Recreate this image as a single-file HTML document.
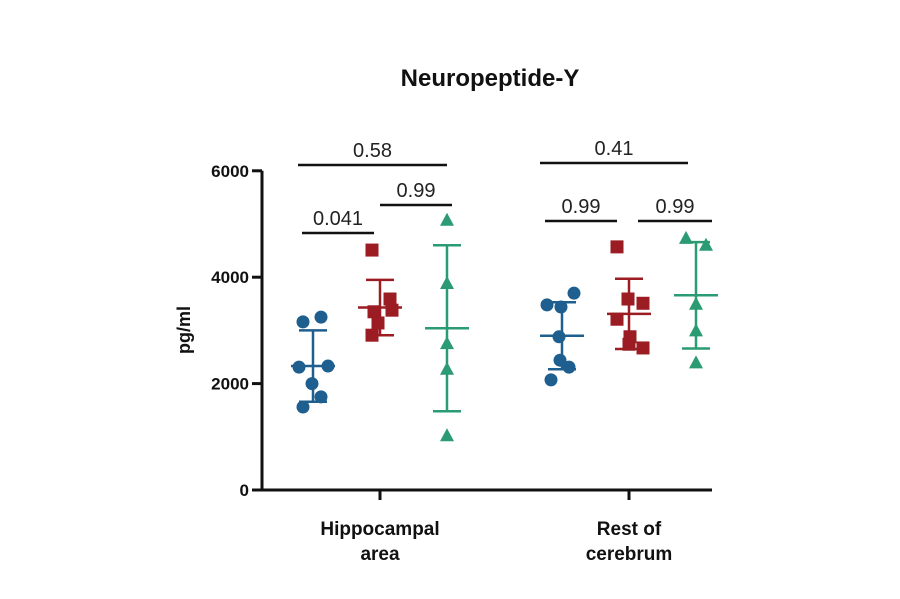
<!DOCTYPE html>
<html><head><meta charset="utf-8"><style>
body{margin:0;background:#fff}
svg text{font-family:"Liberation Sans",Arial,sans-serif}
</style></head><body>
<svg id="chart" width="900" height="594" viewBox="0 0 900 594">
<text x="490" y="86" text-anchor="middle" font-size="24" font-weight="bold" fill="#111">Neuropeptide-Y</text>
<text transform="translate(190,330) rotate(-90)" text-anchor="middle" font-size="18" font-weight="bold" fill="#111">pg/ml</text>
<g id="axes"></g>
<g id="marks"></g>
</svg>
<script>
const yTicks=[0,2000,4000,6000];
const categories=["Hippocampal area","Rest of cerebrum"];
const hipBlue=[3160,3250,2310,2330,2000,1750,1560];
const hipRed=[4510,3590,3350,3380,3140,2910];
const hipGreen=[5080,3890,2760,2280,1030];
const restBlue=[3700,3480,3440,2880,2440,2310,2070];
const restRed=[4570,3510,3590,3210,2880,2670,2740];
const restGreen=[4740,4610,3500,3000,2400];
const hipMean=[2330,3430,3040];
const hipSD=[670,520,1560];
const restMean=[2900,3310,3660];
const restSD=[630,660,1000];
const pLabels=["0.58","0.041","0.99","0.41","0.99","0.99"];

const NS="http://www.w3.org/2000/svg";
const y=v=>490-v*0.0532;
const groupX=[380,629];
const offs=[-67,0,67];
const colors=["#1f5f8f","#9b1c22","#2a9b72"];
const jit=[
 [[-10,8,-14,15,-1,8,-10],[-8,10,-6,12,-2,-8,4],[0,0,0,0,0]],
 [[12,-15,-1,-3,-2,7,-11],[-12,14,-1,-12,1,14,0],[-10,10,0,0,0]]
];
const axes=document.getElementById('axes'),marks=document.getElementById('marks');
function mk(tag,attrs,parent){const e=document.createElementNS(NS,tag);for(const k in attrs)e.setAttribute(k,attrs[k]);parent.appendChild(e);return e;}

let e=mk('line',{x1:262,y1:y(6000),x2:262,y2:y(0)+1.5,stroke:'#111','stroke-width':3},axes);


e=mk('line',{x1:262,y1:y(0),x2:712,y2:y(0),stroke:'#111','stroke-width':3},axes);


yTicks.forEach(t=>{
  const l=mk('line',{x1:252,y1:y(t),x2:262,y2:y(t),stroke:'#111','stroke-width':3},axes);
  
  
  const tx=mk('text',{x:249,y:y(t)+6,'text-anchor':'end','font-size':17,'font-weight':'bold',fill:'#111'},axes);
  tx.textContent=t;
  
  
});
categories.forEach((c,i)=>{
  const l=mk('line',{x1:groupX[i],y1:y(0),x2:groupX[i],y2:y(0)+10,stroke:'#111','stroke-width':3},axes);
  
  
  const parts=i==0?["Hippocampal","area"]:["Rest of","cerebrum"];
  parts.forEach((p,j)=>{
    const tx=mk('text',{x:groupX[i],y:535+j*25,'text-anchor':'middle','font-size':19,'font-weight':'bold',fill:'#111'},axes);
    tx.textContent=p;
    
    
  });
});
function drawGroup(gi,series,means,sds){
  series.forEach((vals,si)=>{
    const cx=groupX[gi]+offs[si],col=colors[si];
    const sd=sds[si],m=means[si];
    const bars=[[cx,y(m+sd),cx,y(m-sd)],[cx-14,y(m+sd),cx+14,y(m+sd)],[cx-14,y(m-sd),cx+14,y(m-sd)],[cx-22,y(m),cx+22,y(m)]];
    bars.forEach(b=>{
      const l=mk('line',{x1:b[0],y1:b[1],x2:b[2],y2:b[3],stroke:col,'stroke-width':2.5},marks);
      
      
    });
    vals.forEach((v,k)=>{
      const px=cx+(jit[gi][si][k]||0),py=y(v);let p;
      if(si==0)p=mk('circle',{cx:px,cy:py,r:6.5,fill:col},marks);
      else if(si==1)p=mk('rect',{x:px-6.5,y:py-6.5,width:13,height:13,fill:col},marks);
      else p=mk('polygon',{points:`${px},${py-7} ${px-7},${py+6} ${px+7},${py+6}`,fill:col},marks);
      
      
    });
  });
}
drawGroup(0,[hipBlue,hipRed,hipGreen],hipMean,hipSD);
drawGroup(1,[restBlue,restRed,restGreen],restMean,restSD);
const brackets=[[298,447,165],[302,374,233],[380,452,205],[540,688,163],[545,617,221],[638,712,221]];
brackets.forEach((b,i)=>{
  const l=mk('line',{x1:b[0],y1:b[2],x2:b[1],y2:b[2],stroke:'#111','stroke-width':2.5},marks);
  
  
  const t=mk('text',{x:(b[0]+b[1])/2,y:b[2]-8,'text-anchor':'middle','font-size':20,fill:'#222'},marks);
  t.textContent=pLabels[i];
  
  
});
</script>
</body></html>
